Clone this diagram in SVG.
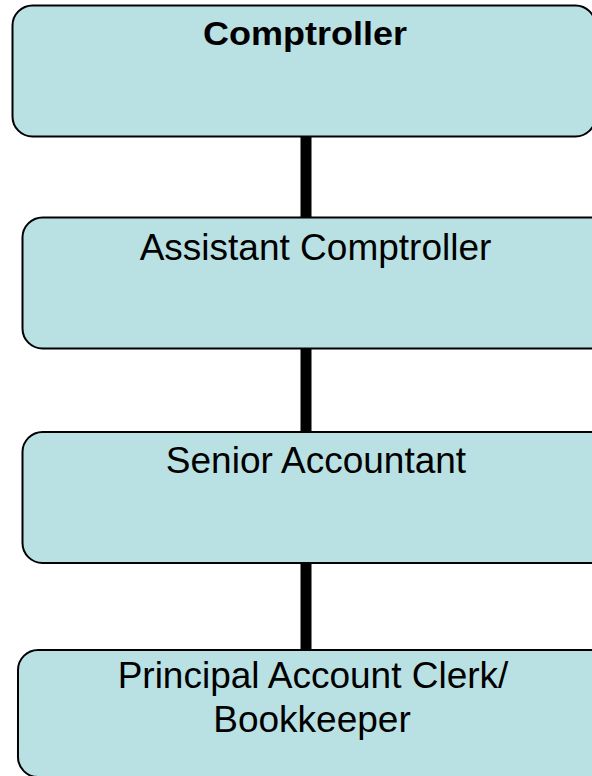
<svg xmlns="http://www.w3.org/2000/svg" width="592" height="776" viewBox="0 0 592 776">
  <style>
    .box { fill: #b9e0e3; stroke: #000; stroke-width: 2; }
    .lbl { font-family: "Liberation Sans", Arial, sans-serif; font-size: 37px; fill: #000; text-anchor: middle; }
    .bold { font-weight: bold; font-size: 33px; }
    .link { stroke: #000; stroke-width: 11; fill: none; }
  </style>
  <rect width="592" height="776" fill="#fff"/>
  <g id="connectors">
    <line class="link" x1="306" y1="136" x2="306" y2="218"/>
    <line class="link" x1="306" y1="348" x2="306" y2="432"/>
    <line class="link" x1="306" y1="563" x2="306" y2="650"/>
  </g>
  <g id="comptroller">
    <rect class="box" x="12.5" y="5.5" width="583" height="131" rx="20"/>
    <text class="lbl bold" x="305" y="44.5" textLength="204" lengthAdjust="spacingAndGlyphs">Comptroller</text>
  </g>
  <g id="assistant-comptroller">
    <rect class="box" x="22.5" y="217.5" width="590" height="131" rx="20"/>
    <text class="lbl" x="315.5" y="259.5">Assistant Comptroller</text>
  </g>
  <g id="senior-accountant">
    <rect class="box" x="22.5" y="432" width="590" height="131" rx="20"/>
    <text class="lbl" x="316" y="473">Senior Accountant</text>
  </g>
  <g id="principal-account-clerk">
    <rect class="box" x="18" y="650" width="594" height="127" rx="20"/>
    <text class="lbl" x="313" y="688">Principal Account Clerk/</text>
    <text class="lbl" x="312" y="731.5">Bookkeeper</text>
  </g>
</svg>
